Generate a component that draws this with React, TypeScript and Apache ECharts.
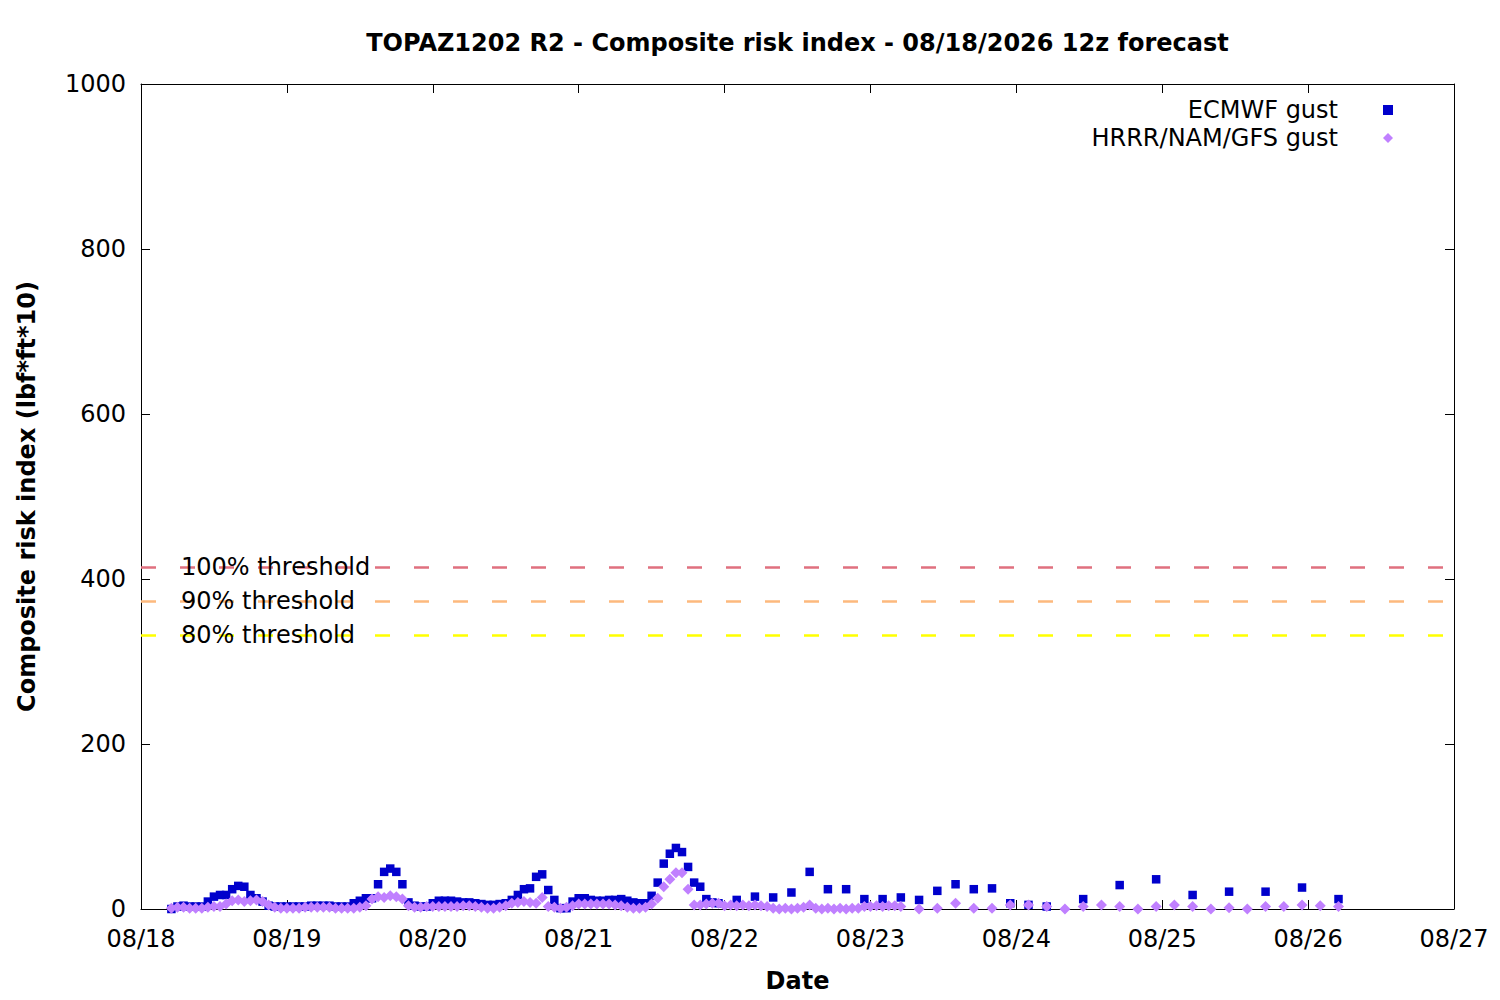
import React, { useEffect, useRef } from "react";
import * as echarts from "echarts";

// Time axis: hours since 08/18 00:00 (local)
const xTickLabels = ["08/18", "08/19", "08/20", "08/21", "08/22", "08/23", "08/24", "08/25", "08/26", "08/27"];
const yTickValues = [0, 200, 400, 600, 800, 1000];

// ECMWF gust: hourly from hour 5, then 3-hourly from hour 98, then 6-hourly from hour 155
const ecmwfHourlyStart = 5;
const ecmwfHourly = [
  0, 3, 4, 3, 3, 3, 9, 15, 17, 17,
  24, 28, 27, 17, 13, 9, 4, 3, 3, 3,
  3, 3, 3, 4, 4, 4, 4, 3, 3, 3,
  7, 10, 13, 13, 30, 45, 49, 45, 30, 8,
  4, 3, 3, 7, 10, 10, 10, 9, 8, 8,
  7, 6, 5, 5, 6, 7, 11, 17, 24, 25,
  39, 42, 23, 11, 1, 1, 9, 13, 13, 11,
  10, 10, 11, 11, 12, 10, 8, 7, 7, 16,
  32, 55, 67, 74, 69, 51, 32, 27, 12, 8,
  7,
];
const ecmwf3hStart = 98;
const ecmwf3h = [11, 15, 14, 20, 45, 24, 24, 12, 12, 14, 11, 22, 30, 24, 25, 7, 5, 3];
const ecmwf6hStart = 155;
const ecmwf6h = [12, 29, 36, 17, 21, 21, 26, 12];

// HRRR/NAM/GFS gust: hourly from hour 5, then 3-hourly from hour 128
const hrrrHourlyStart = 5;
const hrrrHourly = [
  1, 2, 2, 1, 1, 1, 2, 3, 3, 6,
  10, 11, 9, 10, 11, 9, 5, 2, 1, 1,
  1, 1, 2, 2, 2, 2, 2, 1, 1, 1,
  1, 2, 4, 12, 15, 14, 16, 15, 12, 4,
  2, 2, 3, 3, 3, 3, 3, 3, 4, 4,
  3, 2, 1, 1, 2, 4, 7, 8, 9, 8,
  7, 14, 3, 2, 1, 2, 4, 6, 6, 6,
  6, 6, 6, 5, 4, 2, 1, 1, 2, 6,
  13, 27, 36, 44, 44, 24, 5, 5, 6, 7,
  7, 4, 5, 4, 5, 4, 5, 4, 3, 1,
  0, 1, 0, 1, 2, 5, 1, 0, 1, 0,
  1, 0, 1, 1, 3, 3, 4, 3, 4, 4,
  3,
];
const hrrr3hStart = 128;
const hrrr3h = [0, 1, 7, 1, 1, 5, 5, 3, 0, 3, 5, 3, 0, 3, 5, 3, 0, 1.5, 0, 3, 3, 5, 4, 3];

const thresholdValues = [414.5, 373, 331.6];
const thresholdLabels = ["100% threshold", "90% threshold", "80% threshold"];
const thresholdColors = ["#e0707f", "#fdb97d", "#ffff00"];

const seriesNames = ["ECMWF gust", "HRRR/NAM/GFS gust"];

function toPoints(start: number, step: number, vals: number[]) {
  return vals.map((v, i) => [start + i * step, v]);
}

const FONT = "DejaVu Sans";
const FS = 24;

export default function App() {
  const ref = useRef<HTMLDivElement>(null);

  useEffect(() => {
    if (!ref.current) return;
    const chart = echarts.init(ref.current, undefined, { renderer: "svg" });

    const ecmwfData = [
      ...toPoints(ecmwfHourlyStart, 1, ecmwfHourly),
      ...toPoints(ecmwf3hStart, 3, ecmwf3h),
      ...toPoints(ecmwf6hStart, 6, ecmwf6h),
    ];
    const hrrrData = [
      ...toPoints(hrrrHourlyStart, 1, hrrrHourly),
      ...toPoints(hrrr3hStart, 3, hrrr3h),
    ];

    const xMax = (xTickLabels.length - 1) * 24;

    const axisLine = () => ({ show: true, onZero: false, lineStyle: { color: "#000", width: 1 } });
    const axisTick = () => ({ show: true, inside: true, length: 9, lineStyle: { color: "#000", width: 1 } });

    chart.setOption({
      animation: false,
      backgroundColor: "#fff",
      title: {
        text: "TOPAZ1202 R2 - Composite risk index - 08/18/2026 12z forecast",
        left: 797.5,
        textAlign: "center",
        top: 29,
        padding: 0,
        textStyle: { fontFamily: FONT, fontWeight: "bold", fontSize: FS, color: "#000", lineHeight: 28 },
      },
      legend: {
        orient: "vertical",
        align: "right",
        right: 107,
        top: 98,
        padding: 0,
        itemWidth: 10,
        itemHeight: 10,
        itemGap: 4,
        data: seriesNames,
        textStyle: { fontFamily: FONT, fontSize: FS, color: "#000", lineHeight: 24, padding: [0, 40, 0, 0] },
      },
      grid: { left: 141, right: 46, top: 84, bottom: 91, containLabel: false },
      xAxis: [
        {
          type: "value",
          min: 0,
          max: xMax,
          interval: 24,
          position: "bottom",
          name: "Date",
          nameLocation: "middle",
          nameGap: 60,
          nameTextStyle: { fontFamily: FONT, fontWeight: "bold", fontSize: FS, color: "#000" },
          axisLine: axisLine(),
          axisTick: axisTick(),
          splitLine: { show: false },
          axisLabel: {
            margin: 18,
            fontFamily: FONT,
            fontSize: FS,
            color: "#000",
            formatter: (v: number) => xTickLabels[Math.round(v / 24)] ?? "",
          },
        },
        {
          type: "value",
          min: 0,
          max: xMax,
          interval: 24,
          position: "top",
          axisLine: axisLine(),
          axisTick: axisTick(),
          splitLine: { show: false },
          axisLabel: { show: false },
        },
      ],
      yAxis: [
        {
          type: "value",
          min: 0,
          max: 1000,
          interval: 200,
          position: "left",
          name: "Composite risk index (lbf*ft*10)",
          nameLocation: "middle",
          nameRotate: 90,
          nameGap: 102,
          nameTextStyle: { fontFamily: FONT, fontWeight: "bold", fontSize: FS, color: "#000" },
          axisLine: axisLine(),
          axisTick: axisTick(),
          splitLine: { show: false },
          axisLabel: {
            margin: 15,
            padding: [4, 0, 0, 0],
            fontFamily: FONT,
            fontSize: FS,
            color: "#000",
            formatter: (v: number) => (yTickValues.includes(v) ? String(v) : ""),
          },
        },
        {
          type: "value",
          min: 0,
          max: 1000,
          interval: 200,
          position: "right",
          axisLine: axisLine(),
          axisTick: axisTick(),
          splitLine: { show: false },
          axisLabel: { show: false },
        },
      ],
      series: [
        {
          name: seriesNames[0],
          type: "scatter",
          xAxisIndex: 0,
          yAxisIndex: 0,
          symbol: "rect",
          symbolSize: 8.5,
          itemStyle: { color: "#0000cc", opacity: 1 },
          data: ecmwfData,
          markLine: {
            silent: true,
            symbol: "none",
            animation: false,
            data: thresholdValues.map((v, i) => ({
              yAxis: v,
              lineStyle: { color: thresholdColors[i], width: 2.5, type: [15, 24], opacity: 1 },
              label: {
                show: true,
                formatter: thresholdLabels[i],
                position: "insideStartTop",
                distance: [40, 0],
                verticalAlign: "middle",
                align: "left",
                padding: [2, 0, 0, 0],
                fontFamily: FONT,
                fontSize: FS,
                color: "#000",
              },
            })),
          },
        },
        {
          name: seriesNames[1],
          type: "scatter",
          xAxisIndex: 0,
          yAxisIndex: 0,
          symbol: "diamond",
          symbolSize: 11,
          itemStyle: { color: "#c080ff", opacity: 1 },
          data: hrrrData,
        },
      ],
    });

    return () => chart.dispose();
  }, []);

  return (
    <div
      ref={ref}
      style={{ position: "absolute", left: 0, top: 0, width: 1500, height: 1000 }}
    />
  );
}
